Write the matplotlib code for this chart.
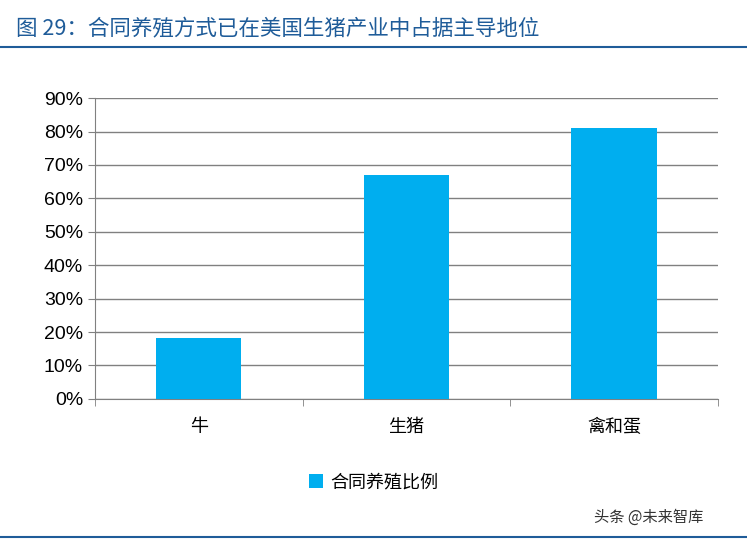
import matplotlib.pyplot as plt
import numpy as np

plt.rcParams['font.family'] = ['Noto Sans CJK SC', 'DejaVu Sans']

categories = ["牛", "生猪", "禽和蛋"]
values = [18.2, 67.0, 81.0]
series_name = "合同养殖比例"
title = "图 29：合同养殖方式已在美国生猪产业中占据主导地位"

blue = "#00AEEF"
fig = plt.figure(figsize=(7.47, 5.39), dpi=100)
ax = fig.add_axes([0.127, 0.26, 0.834, 0.558])

x = np.arange(len(categories))
ax.bar(x, values, width=0.41, color=blue, label=series_name, zorder=3)
ax.set_xlim(-0.5, len(categories) - 0.5)
ax.set_ylim(0, 90)
ax.set_yticks(np.arange(0, 91, 10))
ax.set_yticklabels([f"{v}%" for v in range(0, 91, 10)], fontsize=14, family=['Liberation Sans'])
ax.set_xticks(x)
ax.set_xticklabels(categories, fontsize=13)
ax.set_xticks(np.arange(-0.5, len(categories), 1), minor=True)
ax.tick_params(axis='x', which='major', length=0, pad=14)
ax.tick_params(axis='x', which='minor', length=5, color="#808080")
ax.tick_params(axis='y', length=5, color="#808080")
ax.grid(axis='y', color="#808080", linewidth=1, zorder=0)
for s in ["top", "right"]:
    ax.spines[s].set_visible(False)
for s in ["left", "bottom"]:
    ax.spines[s].set_color("#808080")

fig.legend(loc="center", bbox_to_anchor=(0.5, 0.105), frameon=False, fontsize=13,
           handlelength=0.8, handleheight=0.8, handletextpad=0.4)

fig.text(0.022, 0.945, title, color="#1F5C99", fontsize=15.5, va="center")
fig.add_artist(plt.Line2D([0.0, 1.0], [0.913, 0.913], color="#1F5C99", linewidth=1.5))
fig.add_artist(plt.Line2D([0.0, 1.0], [0.004, 0.004], color="#1F5C99", linewidth=1.5))
fig.text(0.795, 0.04, "头条 @未来智库", color="#333333", fontsize=11, va="center")

fig.savefig("out.png", dpi=100)
